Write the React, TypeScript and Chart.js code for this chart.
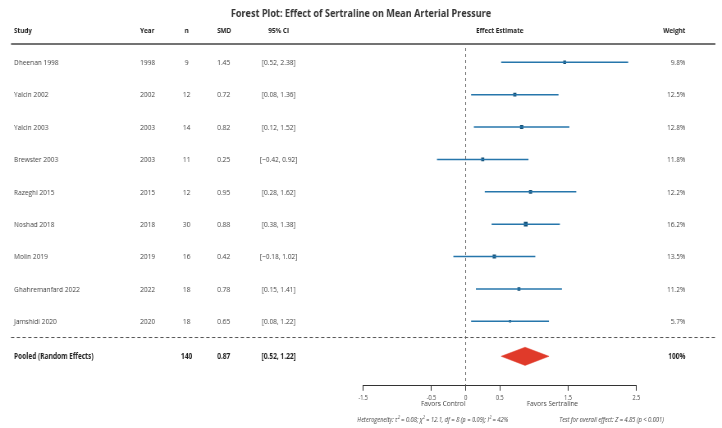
import { useEffect, useRef } from 'react';
import { Chart, registerables } from 'chart.js';

Chart.register(...registerables);

// Study-level data
const studies = [
  'Dheenan 1998',
  'Yalcin 2002',
  'Yalcin 2003',
  'Brewster 2003',
  'Razeghi 2015',
  'Noshad 2018',
  'Molin 2019',
  'Ghahremanfard 2022',
  'Jamshidi 2020',
];
const years = [1998, 2002, 2003, 2003, 2015, 2018, 2019, 2022, 2020];
const sampleSizes = [9, 12, 14, 11, 12, 30, 16, 18, 18];
const smd = [1.45, 0.72, 0.82, 0.25, 0.95, 0.88, 0.42, 0.78, 0.65];
const ciLower = [0.52, 0.08, 0.12, -0.42, 0.28, 0.38, -0.18, 0.15, 0.08];
const ciUpper = [2.38, 1.36, 1.52, 0.92, 1.62, 1.38, 1.02, 1.41, 1.22];
const weights = [9.8, 12.5, 12.8, 11.8, 12.2, 16.2, 13.5, 11.2, 5.7];

// Pooled estimate
const pooledLabel = 'Pooled (Random Effects)';
const pooledN = 140;
const pooledSmd = 0.87;
const pooledCi = [0.52, 1.22];
const pooledWeight = '100%';

// Axis
const xTicks = [-1.5, -0.5, 0, 0.5, 1.5, 2.5];
const xMin = -1.5;
const xMax = 2.5;

const title = 'Forest Plot: Effect of Sertraline on Mean Arterial Pressure';
const heterogeneityText =
  'Heterogeneity: \u03c4\u00b2 = 0.08; \u03c7\u00b2 = 12.1, df = 8 (p = 0.09); I\u00b2 = 42%';
const overallText = 'Test for overall effect: Z = 4.85 (p < 0.001)';

// Layout: the canvas is drawn wide and shown narrower
const VIEW_W = 722;
const VIEW_H = 428;
const X_SCALE = 0.82;
const CANVAS_W = Math.round(VIEW_W / X_SCALE);
const sx = (x: number) => x / X_SCALE;

const FONT = "'Open Sans', sans-serif";
const LINE_COLOR = '#2676ab';
const SQUARE_COLOR = '#154f74';
const DIAMOND_COLOR = '#e03a2a';

// Row positions (row index on the y scale)
const ROW_TOP = -0.44;
const ROW_BOTTOM = 9.99;
const POOLED_ROW = 9.08;
const SEPARATOR_ROW = 8.5;
const DIAMOND_HALF = 0.28;

const fmtCi = (lo: number, hi: number) => {
  const f = (v: number) => (v < 0 ? '\u2212' + Math.abs(v).toFixed(2) : v.toFixed(2));
  return `[${f(lo)}, ${f(hi)}]`;
};

const tablePlugin = {
  id: 'forestTable',
  afterDraw(chart: any) {
    const ctx: CanvasRenderingContext2D = chart.ctx;
    const xs = chart.scales.x;
    const ys = chart.scales.y;
    const area = chart.chartArea;
    ctx.save();

    // Title
    ctx.fillStyle = '#333';
    ctx.font = `bold 11.1px ${FONT}`;
    ctx.textAlign = 'center';
    ctx.textBaseline = 'alphabetic';
    ctx.fillText(title, CANVAS_W / 2, 16.8);

    // Header
    const headY = 33.3;
    ctx.font = `bold 7.7px ${FONT}`;
    ctx.fillStyle = '#222';
    ctx.textAlign = 'left';
    ctx.fillText('Study', sx(14), headY);
    ctx.fillText('Year', sx(140), headY);
    ctx.fillText('SMD', sx(217), headY);
    ctx.textAlign = 'center';
    ctx.fillText('n', sx(186.5), headY);
    ctx.fillText('95% CI', sx(278.5), headY);
    ctx.fillText('Effect Estimate', (area.left + area.right) / 2, headY);
    ctx.textAlign = 'right';
    ctx.fillText('Weight', sx(685), headY);

    // Header rule
    ctx.strokeStyle = '#444';
    ctx.lineWidth = 1.4;
    ctx.beginPath();
    ctx.moveTo(sx(11), 44);
    ctx.lineTo(sx(715), 44);
    ctx.stroke();

    // Study rows
    ctx.font = `8px ${FONT}`;
    ctx.fillStyle = '#444';
    studies.forEach((name, i) => {
      const y = ys.getPixelForValue(i) + 2.8;
      ctx.textAlign = 'left';
      ctx.fillText(name, sx(14), y);
      ctx.fillText(String(years[i]), sx(140), y);
      ctx.fillText(smd[i].toFixed(2), sx(217), y);
      ctx.textAlign = 'center';
      ctx.fillText(String(sampleSizes[i]), sx(186.5), y);
      ctx.fillText(fmtCi(ciLower[i], ciUpper[i]), sx(278.5), y);
      ctx.textAlign = 'right';
      ctx.fillText(weights[i].toFixed(1) + '%', sx(685), y);
    });

    // Separator
    const sepY = ys.getPixelForValue(SEPARATOR_ROW);
    ctx.strokeStyle = '#555';
    ctx.lineWidth = 1;
    ctx.setLineDash([4, 3]);
    ctx.beginPath();
    ctx.moveTo(sx(11), sepY);
    ctx.lineTo(sx(715), sepY);
    ctx.stroke();
    ctx.setLineDash([]);

    // Pooled row
    const py = ys.getPixelForValue(POOLED_ROW) + 2.8;
    ctx.font = `bold 8px ${FONT}`;
    ctx.fillStyle = '#222';
    ctx.textAlign = 'left';
    ctx.fillText(pooledLabel, sx(14), py);
    ctx.fillText(pooledSmd.toFixed(2), sx(217), py);
    ctx.textAlign = 'center';
    ctx.fillText(String(pooledN), sx(186.5), py);
    ctx.fillText(fmtCi(pooledCi[0], pooledCi[1]), sx(278.5), py);
    ctx.textAlign = 'right';
    ctx.fillText(pooledWeight, sx(685), py);

    // Direction labels
    ctx.font = `8px ${FONT}`;
    ctx.fillStyle = '#444';
    ctx.textAlign = 'center';
    ctx.fillText('Favors Control', xs.getPixelForValue(-0.33), 406.3);
    ctx.fillText('Favors Sertraline', xs.getPixelForValue(1.27), 406.3);

    // Footer statistics
    ctx.font = `italic 7px ${FONT}`;
    ctx.fillStyle = '#444';
    ctx.textAlign = 'left';
    ctx.fillText(heterogeneityText, sx(357), 421.5);
    ctx.fillText(overallText, sx(559), 421.5);

    ctx.restore();
  },
};

export default function App() {
  const canvasRef = useRef<HTMLCanvasElement | null>(null);

  useEffect(() => {
    const canvas = canvasRef.current;
    if (!canvas) return;

    const ciDatasets = studies.map((name, i) => ({
      type: 'line' as const,
      label: name,
      data: [
        { x: ciLower[i], y: i },
        { x: ciUpper[i], y: i },
      ],
      borderColor: LINE_COLOR,
      borderWidth: 1.5,
      pointRadius: 0,
      fill: false,
    }));

    const chart = new Chart(canvas, {
      type: 'scatter',
      data: {
        datasets: [
          {
            type: 'line',
            label: 'zero',
            data: [
              { x: 0, y: ROW_TOP },
              { x: 0, y: ROW_BOTTOM },
            ],
            borderColor: '#666',
            borderWidth: 1,
            borderDash: [3, 3],
            pointRadius: 0,
            fill: false,
          },
          ...ciDatasets,
          {
            type: 'scatter',
            label: 'estimates',
            data: smd.map((v, i) => ({ x: v, y: i })),
            pointStyle: 'rect',
            pointRadius: weights.map((w) => 1 + w * 0.14),
            backgroundColor: SQUARE_COLOR,
            borderColor: SQUARE_COLOR,
            borderWidth: 0,
          },
          {
            type: 'line',
            label: 'pooled',
            data: [
              { x: pooledCi[0], y: POOLED_ROW },
              { x: pooledSmd, y: POOLED_ROW - DIAMOND_HALF },
              { x: pooledCi[1], y: POOLED_ROW },
              { x: pooledSmd, y: POOLED_ROW + DIAMOND_HALF },
              { x: pooledCi[0], y: POOLED_ROW },
            ],
            borderColor: DIAMOND_COLOR,
            backgroundColor: DIAMOND_COLOR,
            borderWidth: 0.5,
            pointRadius: 0,
            tension: 0,
            fill: 'shape',
          },
        ] as any,
      },
      options: {
        responsive: false,
        maintainAspectRatio: false,
        devicePixelRatio: 1,
        animation: false,
        layout: {
          padding: {
            top: 48,
            left: sx(363),
            right: CANVAS_W - sx(636),
            bottom: 23.3,
          },
        },
        plugins: {
          legend: { display: false },
          tooltip: { enabled: false },
          title: { display: false },
        },
        scales: {
          x: {
            type: 'linear',
            min: xMin,
            max: xMax,
            afterBuildTicks: (scale: any) => {
              scale.ticks = xTicks.map((v) => ({ value: v }));
            },
            ticks: {
              autoSkip: false,
              maxRotation: 0,
              padding: 3,
              color: '#444',
              font: { family: FONT, size: 6.6 },
              callback: (v: any) => String(v),
            },
            grid: {
              display: true,
              drawOnChartArea: false,
              drawTicks: true,
              tickLength: 5,
              color: '#333',
              lineWidth: 1,
            },
            border: { display: true, color: '#333', width: 1 },
          },
          y: {
            type: 'linear',
            display: false,
            reverse: true,
            min: ROW_TOP,
            max: ROW_BOTTOM,
          },
        },
      },
      plugins: [tablePlugin],
    });

    return () => chart.destroy();
  }, []);

  return (
    <div style={{ position: 'fixed', left: 0, top: 0, width: VIEW_W, height: VIEW_H, background: '#fff' }}>
      <canvas
        ref={canvasRef}
        width={CANVAS_W}
        height={VIEW_H}
        style={{ display: 'block', width: VIEW_W, height: VIEW_H }}
      />
    </div>
  );
}
